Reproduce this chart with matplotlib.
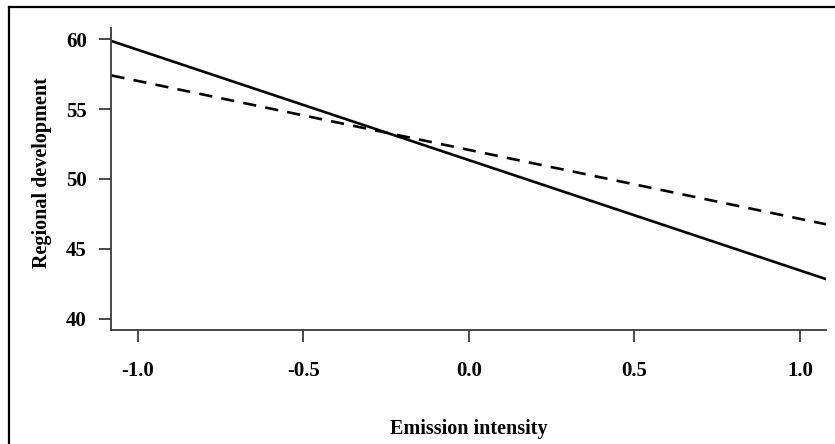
import matplotlib.pyplot as plt
from matplotlib.lines import Line2D

# fitted lines, values read at the ends of the x range
x_ends = [-1.08, 1.08]
solid_y = [59.86, 42.84]
dashed_y = [57.40, 46.76]

x_ticks = [-1.0, -0.5, 0.0, 0.5, 1.0]
x_labels = ["-1.0", "-0.5", "0.0", "0.5", "1.0"]
y_ticks = [40, 45, 50, 55, 60]

plt.rcParams['font.family'] = ['Liberation Serif', 'DejaVu Serif']
plt.rcParams['font.weight'] = 'bold'

fig = plt.figure(figsize=(8.35, 4.44), dpi=100)
ax = fig.add_axes([0.1329, 0.2568, 0.989 - 0.1329, 0.9369 - 0.2568])

ax.plot(x_ends, solid_y, color='black', lw=1.9, solid_capstyle='butt')
ax.plot(x_ends, dashed_y, color='black', lw=1.9, dashes=(5, 3.5))

ax.set_xlim(-1.0816, 1.0785)
ax.set_ylim(39.21, 60.79)
ax.set_xticks(x_ticks)
ax.set_xticklabels(x_labels)
ax.set_yticks(y_ticks)

for s in ['top', 'right']:
    ax.spines[s].set_visible(False)
for s in ['left', 'bottom']:
    ax.spines[s].set_color('#3a3a3a')
    ax.spines[s].set_linewidth(1.3)

ax.tick_params(axis='both', length=8.5, width=1.3, color='#3a3a3a',
               labelsize=15)
ax.tick_params(axis='x', pad=14)
ax.tick_params(axis='y', pad=9)

ax.set_xlabel('Emission intensity', fontsize=14.5, fontweight='bold', labelpad=27)
ax.set_ylabel('Regional development', fontsize=14.5, fontweight='bold',
              labelpad=10, y=0.52)

# outer frame (only top and left edges are visible in the crop)
fig.add_artist(Line2D([8.5 / 835, 1.01], [1 - 7.5 / 444] * 2,
                      transform=fig.transFigure, color='black', lw=1.6))
fig.add_artist(Line2D([8.5 / 835] * 2, [-0.01, 1 - 7.5 / 444],
                      transform=fig.transFigure, color='black', lw=1.6))

plt.savefig('out.png', dpi=100)
